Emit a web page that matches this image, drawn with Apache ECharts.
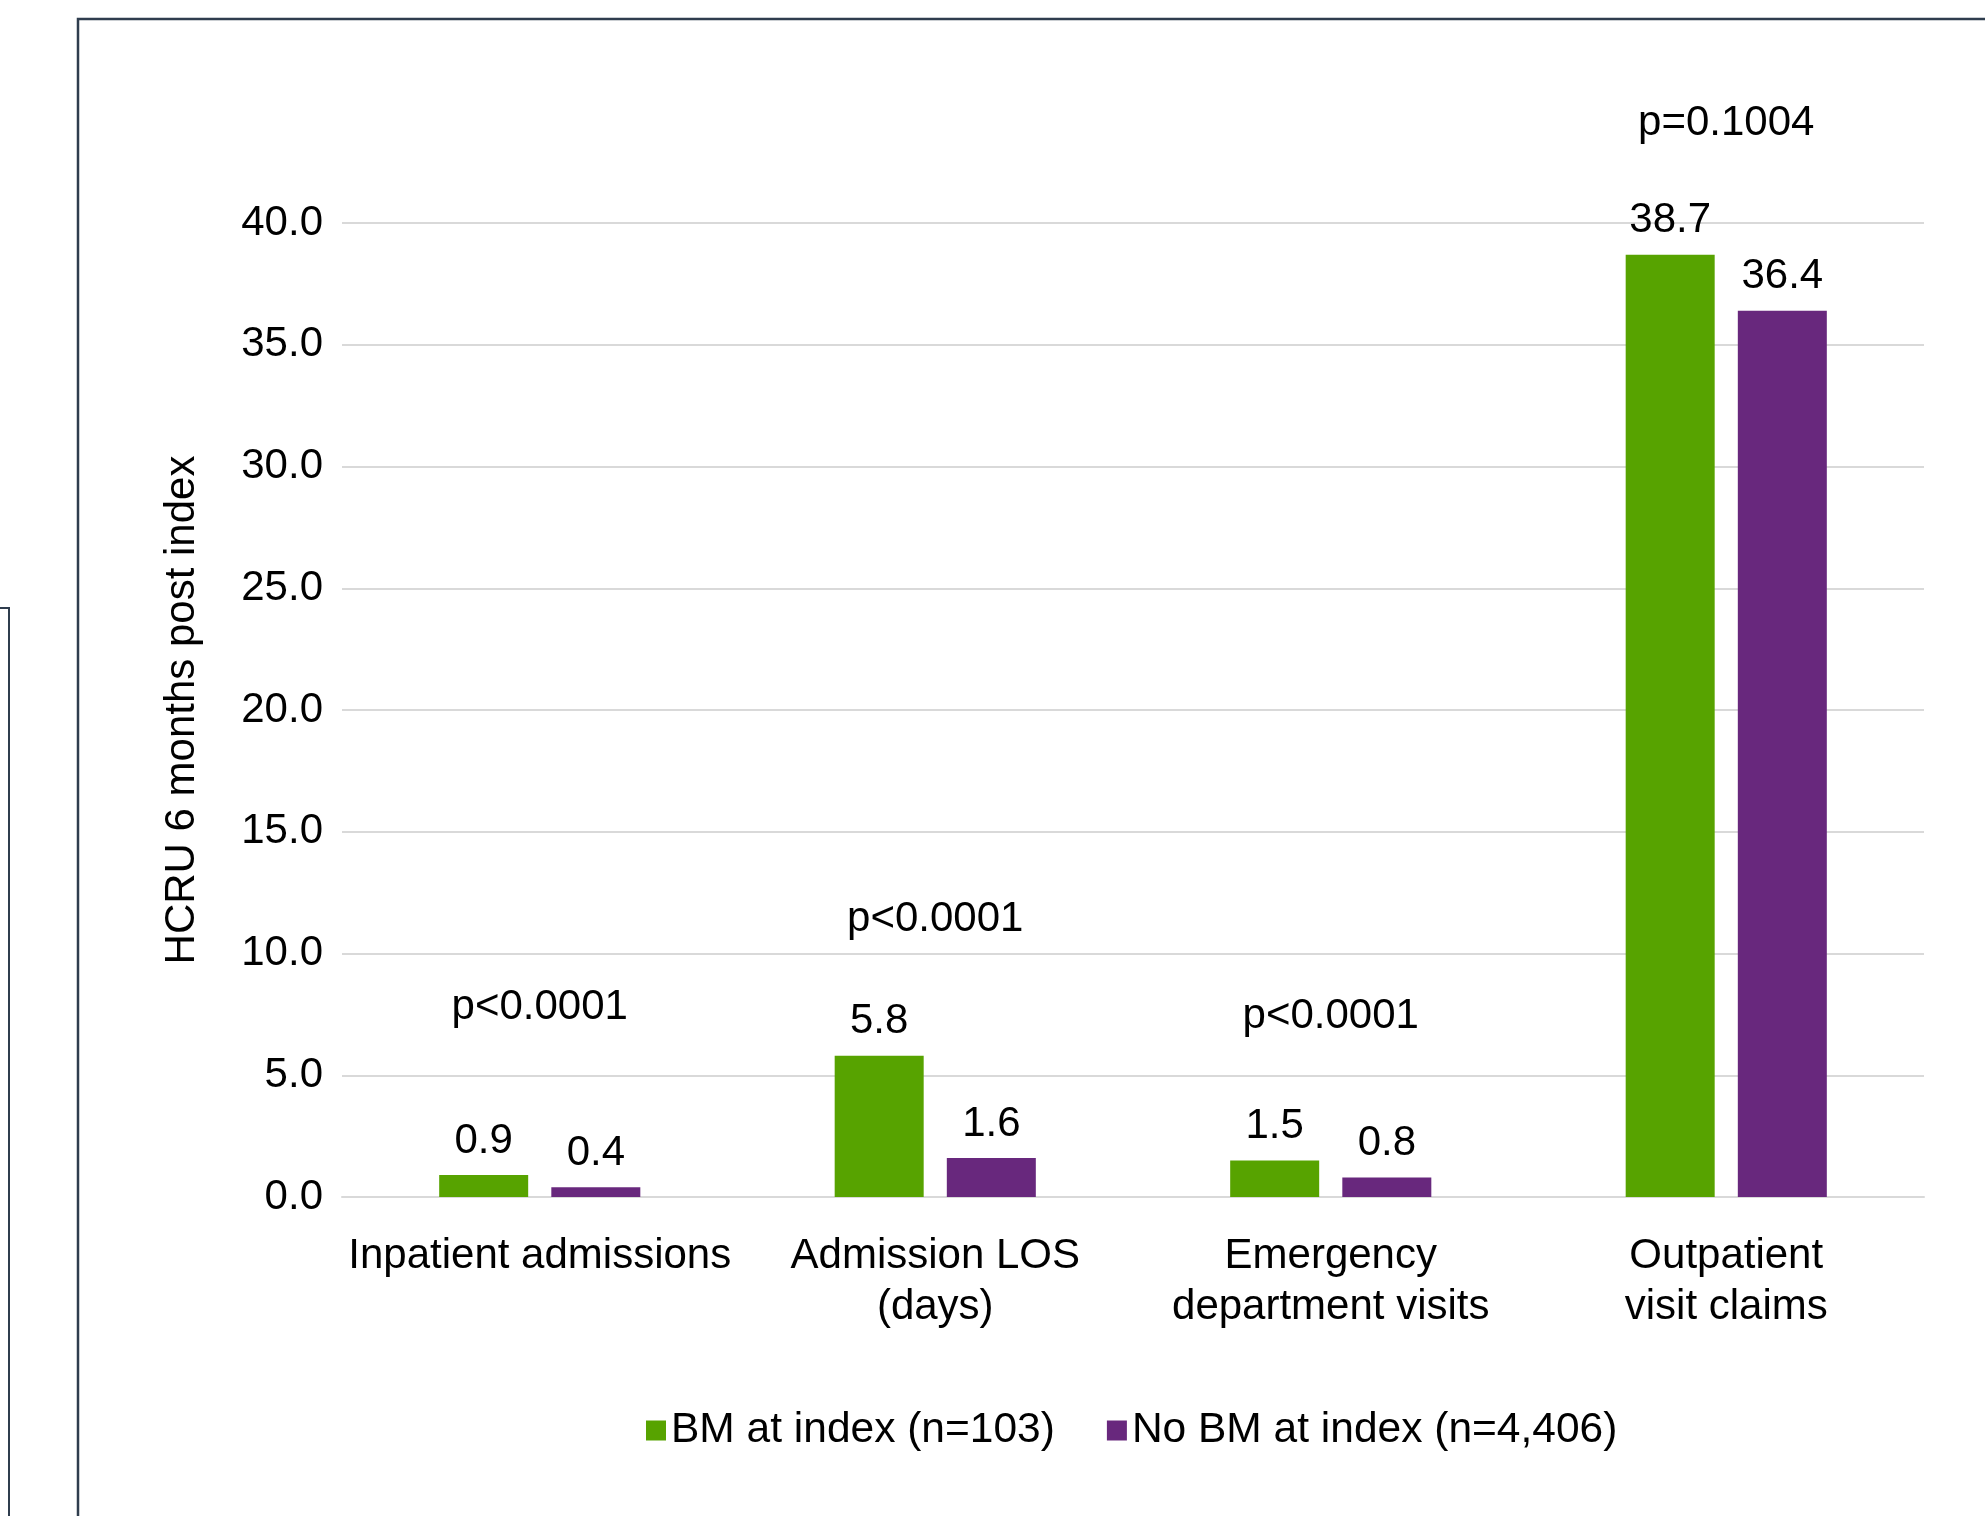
<!DOCTYPE html>
<html>
<head>
<meta charset="utf-8">
<script src="https://cdn.jsdelivr.net/npm/echarts@6/dist/echarts.min.js"></script>
<style>
  html, body { margin: 0; padding: 0; background: #ffffff; }
  #chart { width: 1985px; height: 1516px; }
</style>
</head>
<body>
<div id="chart"></div>
<script>
// Healthcare resource utilisation, 6 months after index
const categories = [
  'Inpatient admissions',
  'Admission LOS\n(days)',
  'Emergency\ndepartment visits',
  'Outpatient\nvisit claims'
];
const seriesNames = ['BM at index (n=103)', 'No BM at index (n=4,406)'];
const bmValues = [0.9, 5.8, 1.5, 38.7];
const noBmValues = [0.4, 1.6, 0.8, 36.4];
const pValues = ['p<0.0001', 'p<0.0001', 'p<0.0001', 'p=0.1004'];
// height (in axis units) at which each p-value annotation is centred
const pLabelLevels = [7.8, 11.4, 7.4, 44.1];
const yTicks = { min: 0, max: 40, interval: 5 };

const FONT = '"Liberation Sans", Arial, Helvetica, sans-serif';
const GREEN = '#57a300';
const PURPLE = '#68287d';

const chart = echarts.init(document.getElementById('chart'), null, { renderer: 'canvas' });

const valueLabel = {
  show: true,
  position: 'top',
  distance: 13,
  color: '#000',
  fontFamily: FONT,
  fontSize: 42,
  formatter: p => p.value.toFixed(1)
};

chart.setOption({
  backgroundColor: '#ffffff',
  animation: false,
  textStyle: { fontFamily: FONT },
  grid: { left: 342, right: 61, top: 223, bottom: 319, containLabel: false },
  legend: {
    data: seriesNames,
    left: 641,
    top: 1404,
    itemWidth: 20,
    itemHeight: 20,
    itemGap: 52,
    icon: 'rect',
    textStyle: { fontFamily: FONT, fontSize: 42.5, color: '#000' }
  },
  xAxis: {
    type: 'category',
    data: categories,
    axisLine: { show: true, lineStyle: { color: '#d9d9d9', width: 2 } },
    axisTick: { show: false },
    axisLabel: {
      color: '#000',
      fontFamily: FONT,
      fontSize: 42,
      lineHeight: 51,
      margin: 34,
      interval: 0,
      align: 'center'
    }
  },
  yAxis: {
    type: 'value',
    min: yTicks.min,
    max: yTicks.max,
    interval: yTicks.interval,
    name: 'HCRU 6 months post index',
    nameLocation: 'middle',
    nameRotate: 90,
    nameGap: 139,
    nameTextStyle: { color: '#000', fontFamily: FONT, fontSize: 42 },
    axisLine: { show: false },
    axisTick: { show: false },
    axisLabel: {
      color: '#000',
      fontFamily: FONT,
      fontSize: 42,
      margin: 19,
      formatter: v => v.toFixed(1)
    },
    splitLine: { lineStyle: { color: '#d9d9d9', width: 2 } }
  },
  series: [
    {
      name: seriesNames[0],
      type: 'bar',
      data: bmValues,
      barWidth: 89,
      barGap: '26%',
      itemStyle: { color: GREEN },
      label: valueLabel
    },
    {
      name: seriesNames[1],
      type: 'bar',
      data: noBmValues,
      barWidth: 89,
      barGap: '26%',
      itemStyle: { color: PURPLE },
      label: valueLabel
    },
    {
      // p-value annotations above each group
      type: 'custom',
      name: 'p-values',
      clip: false,
      silent: true,
      z: 10,
      data: pLabelLevels.map((lvl, i) => [i, lvl]),
      renderItem: (params, api) => {
        const pt = api.coord([api.value(0), api.value(1)]);
        return {
          type: 'text',
          x: pt[0],
          y: pt[1],
          style: {
            text: pValues[params.dataIndex],
            fill: '#000',
            font: '42px ' + FONT,
            align: 'center',
            verticalAlign: 'middle'
          }
        };
      }
    }
  ],
  graphic: [
    {
      // panel frame (runs past the right and bottom edges)
      type: 'rect',
      shape: { x: 78, y: 19, width: 2000, height: 1600 },
      style: { fill: 'none', stroke: '#2f3d4e', lineWidth: 2.5 },
      silent: true,
      z: -1
    },
    {
      // corner of the neighbouring panel at the far left
      type: 'polyline',
      shape: { points: [[0, 608], [9, 608], [9, 1530]] },
      style: { fill: 'none', stroke: '#2f3d4e', lineWidth: 2 },
      silent: true,
      z: -1
    }
  ]
});
</script>
</body>
</html>
